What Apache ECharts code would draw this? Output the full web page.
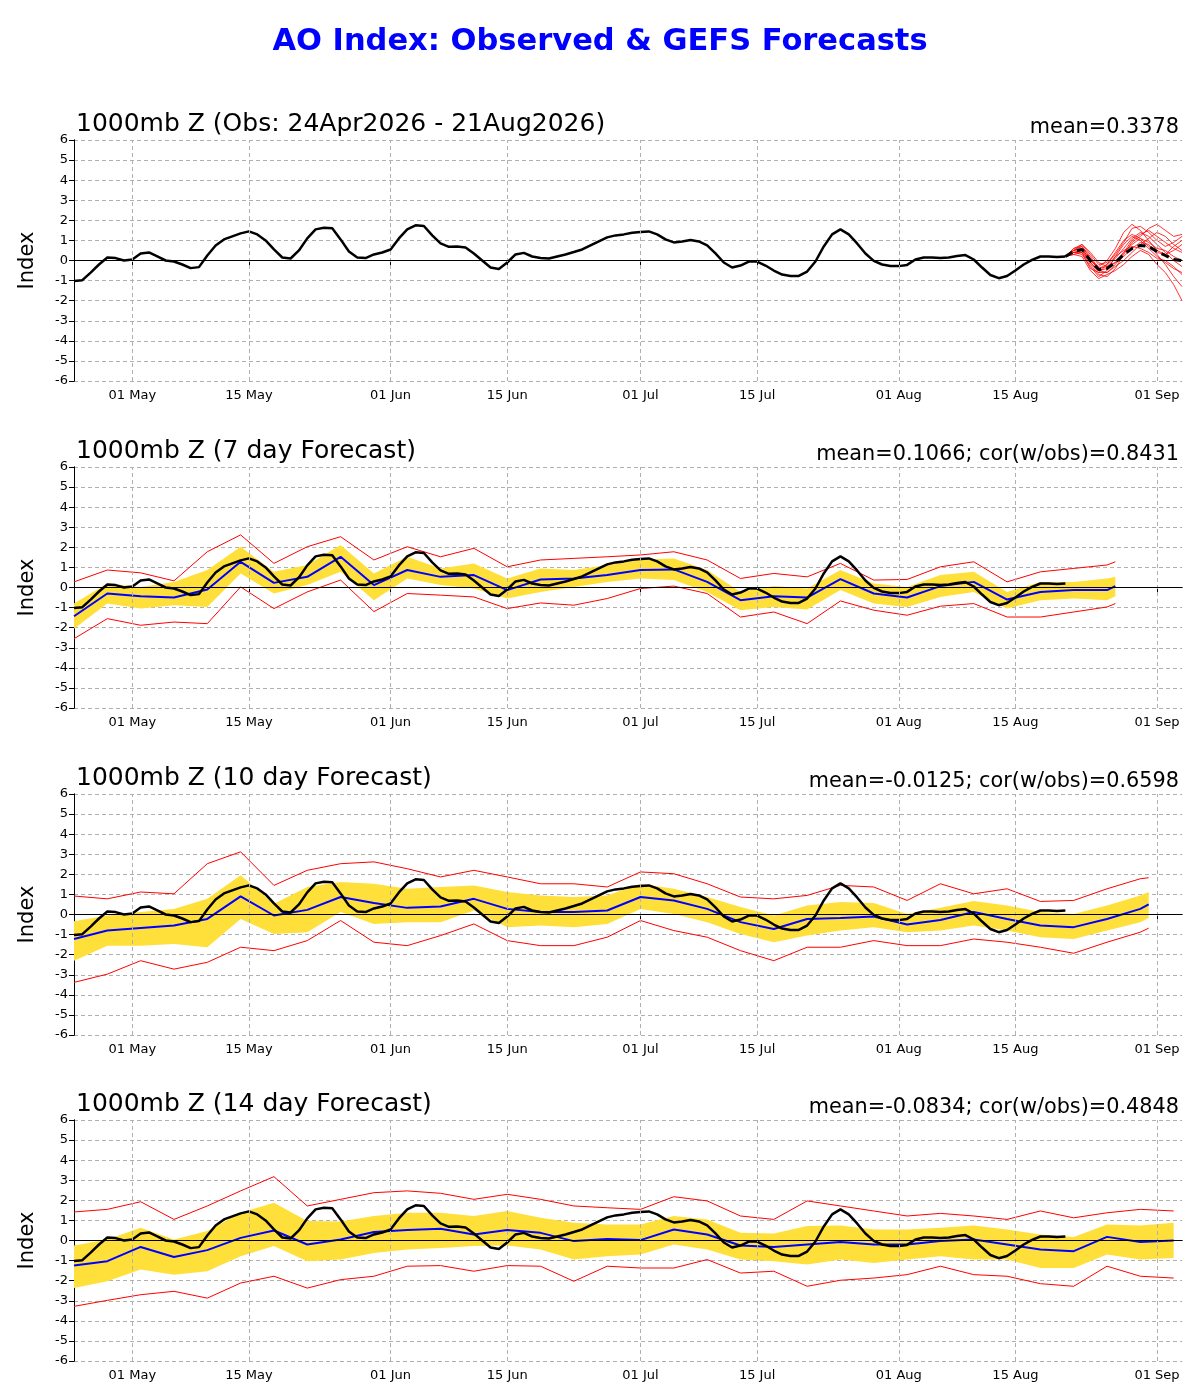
<!DOCTYPE html>
<html>
<head>
<meta charset="UTF-8">
<title>AO Index</title>
<script src="https://cdn.jsdelivr.net/npm/echarts@6/dist/echarts.min.js"></script>
<style>
  html, body { margin: 0; padding: 0; background: #fff; }
  #chart { width: 1200px; height: 1400px; }
</style>
</head>
<body>
<div id="chart"></div>
<script>
// day index 0 = 24 Apr 2026
var tickDays = [7, 21, 38, 52, 68, 82, 99, 113, 130];
var tickLabels = ['01 May', '15 May', '01 Jun', '15 Jun', '01 Jul', '15 Jul', '01 Aug', '15 Aug', '01 Sep'];

// observed AO, daily, 24 Apr - 21 Aug
var obsValues = [
  -1.02, -0.98, -0.6, -0.2, 0.15, 0.12, 0.0, 0.05, 0.35, 0.4, 0.2, 0.0, -0.05, -0.2, -0.38, -0.33,
  0.25, 0.75, 1.05, 1.2, 1.35, 1.45, 1.3, 1.0, 0.55, 0.15, 0.1, 0.5, 1.1, 1.55, 1.63, 1.6,
  1.05, 0.45, 0.15, 0.12, 0.3, 0.4, 0.55, 1.1, 1.55, 1.75, 1.72, 1.25, 0.85, 0.68, 0.7, 0.65,
  0.35, 0.0, -0.35, -0.42, -0.1, 0.3, 0.38, 0.2, 0.12, 0.1, 0.2, 0.3, 0.42, 0.55, 0.75, 0.95,
  1.15, 1.25, 1.3, 1.38, 1.42, 1.45, 1.3, 1.05, 0.9, 0.95, 1.02, 0.95, 0.75, 0.35, -0.1, -0.35,
  -0.25, -0.05, -0.05, -0.25, -0.5, -0.7, -0.77, -0.77, -0.55, -0.05, 0.7, 1.3, 1.55, 1.3, 0.85, 0.35,
  -0.02, -0.2, -0.27, -0.28, -0.22, 0.05, 0.15, 0.15, 0.12, 0.15, 0.22, 0.27, 0.05, -0.35, -0.72, -0.88,
  -0.77, -0.5, -0.2, 0.03, 0.2, 0.2, 0.17, 0.2
];

// GEFS ensemble members from 21 Aug (day 119) to day 133
var ensStart = 119;
var ensMembers = [
  [0.2, 0.5, 0.7, 0.1, -0.5, -0.6, -0.2, 0.4, 1.0, 1.3, 1.5, 1.2, 0.9, 0.6, 0.4],
  [0.2, 0.4, 0.3, -0.3, -0.8, -0.5, 0.2, 0.8, 1.2, 1.0, 0.6, 0.2, -0.1, -0.4, -0.6],
  [0.2, 0.6, 0.8, 0.3, -0.2, -0.1, 0.3, 0.9, 1.6, 1.7, 1.4, 1.0, 0.7, 0.9, 1.2],
  [0.2, 0.3, 0.2, -0.5, -0.9, -0.7, -0.5, -0.2, 0.2, 0.5, 0.3, -0.2, -0.6, -1.2, -2.0],
  [0.2, 0.5, 0.6, 0.0, -0.3, 0.0, 0.6, 1.4, 1.8, 1.5, 1.0, 0.5, 0.3, 0.5, 0.8],
  [0.2, 0.4, 0.5, -0.1, -0.6, -0.6, -0.3, 0.0, 0.4, 0.8, 1.1, 1.4, 1.2, 0.8, 0.5],
  [0.2, 0.6, 0.7, 0.2, -0.4, -0.3, -0.1, 0.2, 0.6, 0.9, 0.8, 0.3, -0.2, -0.8, -1.3],
  [0.2, 0.3, 0.4, -0.2, -0.7, -0.8, -0.4, 0.3, 0.9, 1.2, 1.6, 1.8, 1.5, 1.2, 1.3],
  [0.2, 0.5, 0.6, 0.0, -0.4, -0.2, 0.2, 0.5, 0.7, 0.6, 0.4, 0.1, 0.0, -0.3, -0.7],
  [0.2, 0.4, 0.5, -0.1, -0.5, -0.4, -0.1, 0.4, 0.8, 1.1, 0.9, 0.6, 0.5, 0.2, 0.0],
  [0.2, 0.5, 0.8, 0.4, -0.1, -0.3, 0.1, 0.6, 1.1, 1.4, 1.2, 0.8, 0.4, 0.0, -0.3],
  [0.2, 0.4, 0.4, -0.4, -0.6, -0.2, 0.4, 1.0, 1.3, 1.1, 0.7, 0.4, 0.3, 0.7, 1.0]
];
var ensMean = [0.2, 0.45, 0.55, 0.0, -0.45, -0.4, -0.1, 0.3, 0.6, 0.75, 0.7, 0.45, 0.25, 0.05, 0.0];

// 7 day forecast
var fc7Days = [0,4,8,12,16,20,24,28,32,36,40,44,48,52,56,60,64,68,72,76,80,84,88,92,96,100,104,108,112,116,120,124,125];
var fc7Mean = [-1.43,-0.3,-0.43,-0.5,-0.1,1.28,0.23,0.53,1.53,0.12,0.87,0.53,0.62,-0.13,0.4,0.45,0.62,0.87,0.9,0.28,-0.63,-0.43,-0.5,0.42,-0.3,-0.5,0.07,0.28,-0.6,-0.22,-0.13,-0.13,0.07];
var fc7Lo = [-2.05,-0.8,-1.05,-0.88,-0.97,0.7,-0.3,0.12,0.78,-0.63,0.45,0.12,-0.05,-0.55,-0.22,0.03,0.28,0.45,0.37,-0.22,-1.13,-0.97,-1.1,-0.13,-0.8,-0.97,-0.47,-0.22,-1.05,-0.63,-0.55,-0.63,-0.43];
var fc7Hi = [-0.8,0.2,0.03,0.28,0.87,2.03,0.78,1.12,2.12,0.7,1.53,0.95,1.2,0.45,0.95,0.87,1.12,1.4,1.45,0.87,-0.22,0.07,-0.05,0.87,0.2,0.03,0.62,0.78,-0.22,0.28,0.28,0.45,0.53];
var fc7Min = [-2.55,-1.55,-1.88,-1.72,-1.8,0.03,-1.05,-0.22,0.37,-1.2,-0.3,-0.38,-0.47,-1.05,-0.77,-0.88,-0.55,-0.05,0.07,-0.3,-1.47,-1.22,-1.8,-0.67,-1.13,-1.38,-0.93,-0.8,-1.47,-1.47,-1.22,-0.97,-0.8];
var fc7Max = [0.28,0.87,0.73,0.33,1.78,2.62,1.2,2.03,2.53,1.37,2.03,1.53,1.95,1.03,1.37,1.45,1.53,1.62,1.78,1.37,0.45,0.7,0.53,1.2,0.37,0.4,1.03,1.28,0.28,0.78,0.95,1.12,1.28];

// 10 day forecast
var fc10Days = [0,4,8,12,16,20,24,28,32,36,40,44,48,52,56,60,64,68,72,76,80,84,88,92,96,100,104,108,112,116,120,124,128,129];
var fc10Mean = [-1.22,-0.8,-0.67,-0.55,-0.22,0.9,-0.05,0.23,0.87,0.57,0.33,0.4,0.78,0.28,0.12,0.12,0.2,0.87,0.7,0.28,-0.38,-0.72,-0.22,-0.17,-0.1,-0.5,-0.27,0.12,-0.22,-0.55,-0.63,-0.22,0.28,0.5];
var fc10Lo = [-2.3,-1.55,-1.55,-1.47,-1.63,-0.22,-0.97,-0.88,0.12,-0.47,-0.38,-0.38,0.2,-0.63,-0.55,-0.63,-0.47,0.28,0.03,-0.38,-0.97,-1.38,-1.05,-0.8,-0.63,-0.88,-0.8,-0.55,-0.8,-1.13,-1.22,-0.8,-0.38,-0.17];
var fc10Hi = [-0.33,-0.05,0.12,0.28,0.78,1.95,0.53,1.37,1.62,1.53,1.28,1.37,1.45,1.12,0.95,0.87,0.95,1.53,1.28,0.87,0.37,-0.05,0.45,0.62,0.57,0.03,0.33,0.67,0.45,0.12,0.03,0.45,0.95,1.12];
var fc10Min = [-3.38,-2.97,-2.3,-2.72,-2.38,-1.63,-1.8,-1.3,-0.3,-1.38,-1.55,-1.05,-0.47,-1.3,-1.55,-1.55,-1.13,-0.3,-0.8,-1.13,-1.8,-2.3,-1.63,-1.63,-1.3,-1.55,-1.55,-1.22,-1.38,-1.63,-1.93,-1.38,-0.88,-0.68];
var fc10Max = [0.92,0.78,1.12,1.03,2.53,3.12,1.45,2.2,2.53,2.62,2.28,1.87,2.2,1.87,1.53,1.53,1.37,2.12,2.03,1.53,0.87,0.78,0.95,1.45,1.37,0.7,1.53,1.03,1.28,0.65,0.7,1.28,1.78,1.83];

// 14 day forecast
var fc14Days = [0,4,8,12,16,20,24,28,32,36,40,44,48,52,56,60,64,68,72,76,80,84,88,92,96,100,104,108,112,116,120,124,128,132];
var fc14Mean = [-1.25,-1.03,-0.32,-0.82,-0.48,0.13,0.5,-0.2,0.05,0.42,0.52,0.58,0.3,0.52,0.38,-0.03,0.08,0.02,0.55,0.3,-0.25,-0.32,-0.2,-0.08,-0.2,-0.2,-0.03,0.05,-0.2,-0.45,-0.53,0.18,-0.08,0.0];
var fc14Lo = [-2.37,-2.03,-1.45,-1.7,-1.53,-0.78,-0.28,-1.03,-0.95,-0.62,-0.45,-0.37,-0.28,-0.25,-0.45,-0.95,-0.78,-0.7,-0.2,-0.45,-0.95,-1.03,-1.2,-0.95,-1.12,-0.95,-0.78,-0.95,-0.95,-1.37,-1.37,-0.7,-0.95,-0.87];
var fc14Hi = [-0.25,0.05,0.63,0.05,0.47,1.38,1.88,0.97,0.95,1.22,1.38,1.38,1.22,1.47,1.13,0.88,0.8,0.8,1.22,1.05,0.38,0.35,0.72,0.75,0.55,0.55,0.63,0.75,0.55,0.3,0.18,0.8,0.75,0.88];
var fc14Min = [-3.28,-2.98,-2.7,-2.53,-2.87,-2.12,-1.78,-2.37,-1.95,-1.78,-1.28,-1.25,-1.53,-1.25,-1.28,-2.03,-1.28,-1.37,-1.37,-0.95,-1.62,-1.53,-2.28,-1.98,-1.87,-1.7,-1.28,-1.7,-1.78,-2.15,-2.28,-1.28,-1.78,-1.87];
var fc14Max = [1.42,1.55,1.93,1.05,1.72,2.47,3.18,1.72,2.05,2.38,2.47,2.35,2.05,2.3,2.05,1.72,1.63,1.55,2.18,1.97,1.22,1.05,1.97,1.72,1.47,1.22,1.35,1.22,1.05,1.47,1.13,1.38,1.55,1.47];

var panelTitles = [
  '1000mb Z (Obs: 24Apr2026 - 21Aug2026)',
  '1000mb Z (7 day Forecast)',
  '1000mb Z (10 day Forecast)',
  '1000mb Z (14 day Forecast)'
];
var panelStats = [
  'mean=0.3378',
  'mean=0.1066; cor(w/obs)=0.8431',
  'mean=-0.0125; cor(w/obs)=0.6598',
  'mean=-0.0834; cor(w/obs)=0.4848'
];

var FONT = 'DejaVu Sans';
var gridTops = [140, 467, 794, 1120];
var GRID_H = 241;

function pairs(days, vals) {
  return days.map(function (d, i) { return [d, vals[i]]; });
}
function obsPairs() {
  return obsValues.map(function (v, i) { return [i, v]; });
}

var grids = [], xAxes = [], yAxes = [], titles = [], series = [];

titles.push({
  text: 'AO Index: Observed & GEFS Forecasts',
  left: 'center', top: 22,
  textStyle: { color: '#0000ff', fontSize: 30.5, fontWeight: 'bold', fontFamily: FONT }
});

gridTops.forEach(function (top, p) {
  grids.push({ left: 74, right: 18, top: top, height: GRID_H });
  titles.push({
    text: panelTitles[p], left: 71, top: top - 33,
    textStyle: { color: '#000', fontSize: 25, fontWeight: 'normal', fontFamily: FONT }
  });
  titles.push({
    text: panelStats[p], right: 16, top: top - 28,
    textStyle: { color: '#000', fontSize: 20.8, fontWeight: 'normal', fontFamily: FONT }
  });
  xAxes.push({
    type: 'value', gridIndex: p, min: 0, max: 133,
    axisLine: { lineStyle: { color: '#000' } },
    axisTick: { customValues: tickDays, lineStyle: { color: '#000' } },
    axisLabel: {
      customValues: tickDays, color: '#000', fontSize: 13, fontFamily: FONT, margin: 8,
      formatter: function (v) { var k = tickDays.indexOf(Math.round(v)); return k >= 0 ? tickLabels[k] : ''; }
    },
    splitLine: { show: false }
  });
  xAxes.push({
    type: 'value', gridIndex: p, min: 0, max: 133, position: 'top',
    axisLine: { lineStyle: { color: '#000' } },
    axisTick: { show: false }, axisLabel: { show: false }, splitLine: { show: false }
  });
  yAxes.push({
    type: 'value', gridIndex: p, min: -6, max: 6, interval: 1,
    name: 'Index', nameLocation: 'middle', nameGap: 36, nameRotate: 90,
    nameTextStyle: { color: '#000', fontSize: 21, fontFamily: FONT },
    axisLine: { show: true, lineStyle: { color: '#000' } },
    axisTick: { show: true, lineStyle: { color: '#000' } },
    axisLabel: { color: '#000', fontSize: 13, fontFamily: FONT, margin: 6 },
    splitLine: { show: true, lineStyle: { color: '#b0b0b0', type: [4, 3], width: 1 } }
  });
  yAxes.push({
    type: 'value', gridIndex: p, min: -6, max: 6, position: 'right',
    axisLine: { show: true, lineStyle: { color: '#000' } },
    axisTick: { show: false }, axisLabel: { show: false }, splitLine: { show: false }
  });
});

function gridMarks() {
  var data = tickDays.map(function (d) { return { xAxis: d }; });
  data.push({ yAxis: 0, lineStyle: { color: '#000', type: 'solid', width: 1 } });
  return {
    silent: true, symbol: 'none', animation: false,
    label: { show: false },
    lineStyle: { color: '#b0b0b0', type: [4, 3], width: 1 },
    data: data
  };
}

function lineSeries(p, data, color, width, extra) {
  var s = {
    type: 'line', xAxisIndex: 2 * p, yAxisIndex: 2 * p, data: data,
    showSymbol: false, symbol: 'none', silent: true, animation: false,
    lineStyle: { color: color, width: width }
  };
  for (var k in extra) s[k] = extra[k];
  return s;
}

// yellow spread band between lo and hi, drawn as one polygon through the axes
function bandSeries(p, days, lo, hi) {
  return {
    type: 'custom', xAxisIndex: 2 * p, yAxisIndex: 2 * p, silent: true, animation: false, z: 1,
    data: days.map(function (d, i) { return [d, lo[i], hi[i]]; }),
    encode: { x: 0, y: [1, 2] },
    markLine: gridMarks(),
    renderItem: function (params, api) {
      if (params.dataIndex !== 0) return null;
      var pts = [];
      for (var i = 0; i < days.length; i++) pts.push(api.coord([days[i], hi[i]]));
      for (var j = days.length - 1; j >= 0; j--) pts.push(api.coord([days[j], lo[j]]));
      return { type: 'polygon', shape: { points: pts }, style: { fill: '#ffe03a', stroke: 'none' } };
    }
  };
}

// panel 1: observed + ensemble
series.push(lineSeries(0, obsPairs(), '#000', 2.5, { markLine: gridMarks(), z: 3 }));
ensMembers.forEach(function (m) {
  var d = m.map(function (v, i) { return [ensStart + i, v]; });
  series.push(lineSeries(0, d, '#ff0000', 0.8, { z: 4 }));
});
series.push(lineSeries(0, ensMean.map(function (v, i) { return [ensStart + i, v]; }), '#000', 3,
  { z: 5, lineStyle: { color: '#000', width: 3, type: [8, 5] } }));

// panels 2-4: forecasts
var fcSets = [
  [fc7Days, fc7Mean, fc7Lo, fc7Hi, fc7Min, fc7Max],
  [fc10Days, fc10Mean, fc10Lo, fc10Hi, fc10Min, fc10Max],
  [fc14Days, fc14Mean, fc14Lo, fc14Hi, fc14Min, fc14Max]
];
fcSets.forEach(function (f, k) {
  var p = k + 1;
  var days = f[0];
  series.push(bandSeries(p, days, f[2], f[3]));
  series.push(lineSeries(p, pairs(days, f[4]), '#ff0000', 1, { z: 2 }));
  series.push(lineSeries(p, pairs(days, f[5]), '#ff0000', 1, { z: 2 }));
  series.push(lineSeries(p, pairs(days, f[1]), '#0000ff', 2, { z: 3 }));
  series.push(lineSeries(p, obsPairs(), '#000', 2.5, { z: 4 }));
});

var chart = echarts.init(document.getElementById('chart'));
chart.setOption({
  backgroundColor: '#fff',
  animation: false,
  title: titles,
  grid: grids,
  xAxis: xAxes,
  yAxis: yAxes,
  series: series
});
</script>
</body>
</html>
